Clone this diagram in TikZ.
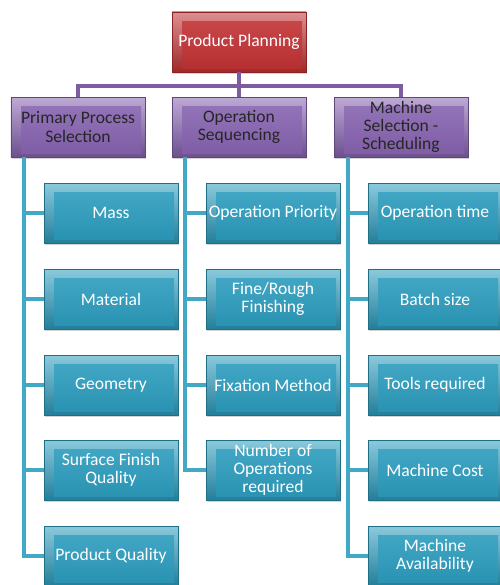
\documentclass[tikz,border=0pt]{standalone}
\usepackage{fontspec}
\setmainfont{Carlito}
\usetikzlibrary{positioning, shadows, calc}
\definecolor{redbox}{RGB}{196,50,52}
\definecolor{purplebox}{RGB}{136,100,178}
\definecolor{tealbox}{RGB}{44,158,192}
\tikzset{
  box/.style={rectangle, minimum width=4.02cm, minimum height=1.8cm, align=center, inner xsep=1pt,
    draw=#1!70!black, line width=0.4pt, top color=#1!55!white, bottom color=#1!80!black,
    drop shadow={opacity=0.35, shadow xshift=0.04cm, shadow yshift=-0.07cm},
    path picture={\shade[top color=#1!88!white, bottom color=#1!92!black]
      ([shift={(0.3,-0.28)}]path picture bounding box.north west) rectangle
      ([shift={(-0.12,0.12)}]path picture bounding box.south east);},
    font=\fontsize{15}{15.5}\selectfont},
  rootbox/.style={box=redbox, text=white},
  mainbox/.style={box=purplebox, text=black!85},
  subbox/.style={box=tealbox, text=white},
  pline/.style={draw=purplebox!92!black, line width=3.4pt},
  tline/.style={draw=tealbox!90!white, line width=3pt}
}

\begin{document}
\begin{tikzpicture}
  \useasboundingbox (0,0) rectangle (14.97,-17.55);

  % Top and second level
  \node[rootbox] (plan) at (7.17,-1.26) {Product Planning};
  \node[mainbox] (proc) at (2.34,-3.81) {Primary Process\\Selection};
  \node[mainbox] (seq)  at (7.17,-3.81) {Operation\\Sequencing};
  \node[mainbox] (mach) at (12.03,-3.81) {Machine\\Selection -\\Scheduling};

  % Children of Primary Process Selection
  \node[subbox] (mass)     at (3.33,-6.39)  {Mass};
  \node[subbox] (material) at (3.33,-8.97)  {Material};
  \node[subbox] (geometry) at (3.33,-11.55) {Geometry};
  \node[subbox] (surface)  at (3.33,-14.10) {Surface Finish\\Quality};
  \node[subbox] (quality)  at (3.33,-16.68) {Product Quality};

  % Children of Operation Sequencing
  \node[subbox] (priority) at (8.19,-6.39)  {Operation Priority};
  \node[subbox] (finish)   at (8.19,-8.97)  {Fine/Rough\\Finishing};
  \node[subbox] (fixation) at (8.19,-11.55) {Fixation Method};
  \node[subbox] (numops)   at (8.19,-14.10) {Number of\\Operations\\required};

  % Children of Machine Selection - Scheduling
  \node[subbox] (optime) at (13.05,-6.39)  {Operation time};
  \node[subbox] (batch)  at (13.05,-8.97)  {Batch size};
  \node[subbox] (tools)  at (13.05,-11.55) {Tools required};
  \node[subbox] (cost)   at (13.05,-14.10) {Machine Cost};
  \node[subbox] (avail)  at (13.05,-16.68) {Machine\\Availability};

  % Purple bus
  \coordinate (bus) at (7.17,-2.58);
  \draw[pline] (plan.south) -- (bus);
  \draw[pline] (proc.north) |- (bus) -| (mach.north);
  \draw[pline] (bus) -- (seq.north);

  % Teal branches
  \draw[tline] ([xshift=0.39cm]proc.south west) |- (mass.west);
  \draw[tline] ([xshift=0.39cm]proc.south west) |- (material.west);
  \draw[tline] ([xshift=0.39cm]proc.south west) |- (geometry.west);
  \draw[tline] ([xshift=0.39cm]proc.south west) |- (surface.west);
  \draw[tline] ([xshift=0.39cm]proc.south west) |- (quality.west);

  \draw[tline] ([xshift=0.39cm]seq.south west) |- (priority.west);
  \draw[tline] ([xshift=0.39cm]seq.south west) |- (finish.west);
  \draw[tline] ([xshift=0.39cm]seq.south west) |- (fixation.west);
  \draw[tline] ([xshift=0.39cm]seq.south west) |- (numops.west);

  \draw[tline] ([xshift=0.42cm]mach.south west) |- (optime.west);
  \draw[tline] ([xshift=0.42cm]mach.south west) |- (batch.west);
  \draw[tline] ([xshift=0.42cm]mach.south west) |- (tools.west);
  \draw[tline] ([xshift=0.42cm]mach.south west) |- (cost.west);
  \draw[tline] ([xshift=0.42cm]mach.south west) |- (avail.west);
\end{tikzpicture}
\end{document}
